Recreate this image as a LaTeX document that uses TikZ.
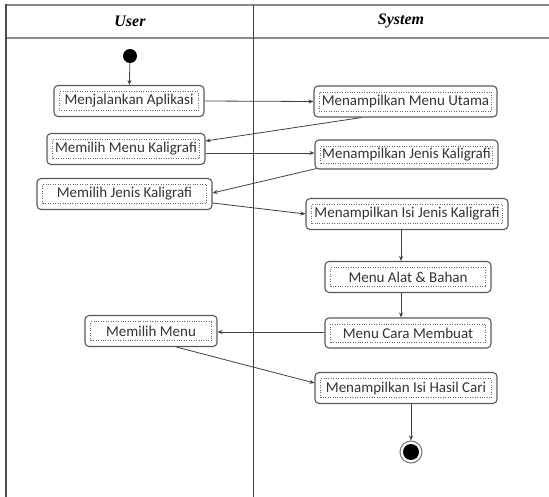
\documentclass[tikz,border=0pt]{standalone}
\usepackage{fontspec}
\setmainfont{Liberation Serif}
\newfontfamily\boxfont{Carlito}
\usetikzlibrary{arrows.meta}
\tikzset{
  act/.style={draw=black!65, line width=1.1pt, rounded corners=4pt,
    minimum height=31pt, inner sep=0pt, text=black!80,
    font=\boxfont\fontsize{15}{18}\selectfont,
    path picture={\draw[black!60, line width=0.45pt, dotted, sharp corners]
      ([shift={(5.5pt,6pt)}]path picture bounding box.south west) rectangle
      ([shift={(-5.5pt,-6pt)}]path picture bounding box.north east);}},
  flow/.style={draw=black!75, line width=0.8pt, -{Stealth[length=5pt,width=4pt]}},
  lane/.style={draw=black!45, line width=1.6pt},
  head/.style={font=\bfseries\itshape\fontsize{16}{19}\selectfont}
}
\begin{document}
\begin{tikzpicture}[x=1pt,y=-1pt]
\useasboundingbox (0,0) rectangle (549,497);
% swimlanes
\draw[lane] (6,5) -- (549,5);
\draw[lane] (6,38) -- (549,38);
\draw[draw=black!70, line width=1.6pt] (6,4) -- (6,497);
\draw[draw=black!75, line width=0.8pt] (253,5) -- (253,497);
\node[head] (huser) at (130,21) {User};
\node[head] (hsys) at (401,21) {System};
% nodes
\node[circle, fill=black, minimum size=14pt, inner sep=0pt] (init) at (130,56) {};
\node[act, minimum width=150pt] (b1) at (129,101) {Menjalankan Aplikasi};
\node[act, minimum width=183pt] (b2) at (405.5,101.5) {Menampilkan Menu Utama};
\node[act, minimum width=158pt] (b3) at (126,149) {Memilih Menu Kaligrafi};
\node[act, minimum width=183pt, minimum height=29pt] (b4) at (406.5,154.5) {Menampilkan Jenis Kaligrafi};
\node[act, minimum width=175pt] (b5) at (124.5,194) {Memilih Jenis Kaligrafi};
\node[act, minimum width=202pt] (b6) at (407,214) {Menampilkan Isi Jenis Kaligrafi};
\node[act, minimum width=166pt] (b7) at (408,277) {Menu Alat \& Bahan};
\node[act, minimum width=166pt, minimum height=30pt] (b8) at (408,333) {Menu Cara Membuat};
\node[act, minimum width=132pt] (b9) at (151,331) {Memilih Menu};
\node[act, minimum width=182pt] (b10) at (406,388) {Menampilkan Isi Hasil Cari};
\node[circle, draw=black!55, line width=1pt, fill=white, minimum size=22pt, inner sep=0pt] (final) at (411,452) {};
\fill[black] (final.center) circle (8pt);
% connectors
\draw[flow] (init) -- (b1);
\draw[flow] (b1.east) -- (b2.west);
\draw[flow] ([xshift=48pt]b2.south west) -- ([yshift=8pt]b3.east);
\draw[flow] ([yshift=-4pt]b3.east) -- ([yshift=-4pt]b3.east -| b4.west);
\draw[flow] ([xshift=2pt,yshift=1pt]b4.south west) -- ([yshift=1pt]b5.east);
\draw[flow] ([yshift=-9pt]b5.east) -- (b6.west);
\coordinate (c6) at (401,230);
\draw[flow] (c6 |- b6.south) -- (c6 |- b7.north);
\draw[flow] (c6 |- b7.south) -- (c6 |- b8.north);
\draw[flow] ([yshift=1pt]b8.west) -- ([yshift=1pt]b8.west -| b9.east);
\draw[flow] ([xshift=92pt]b9.south west) -- ([yshift=5pt]b10.west);
\draw[flow] (final |- b10.south) -- (final.north);
\end{tikzpicture}
\end{document}
